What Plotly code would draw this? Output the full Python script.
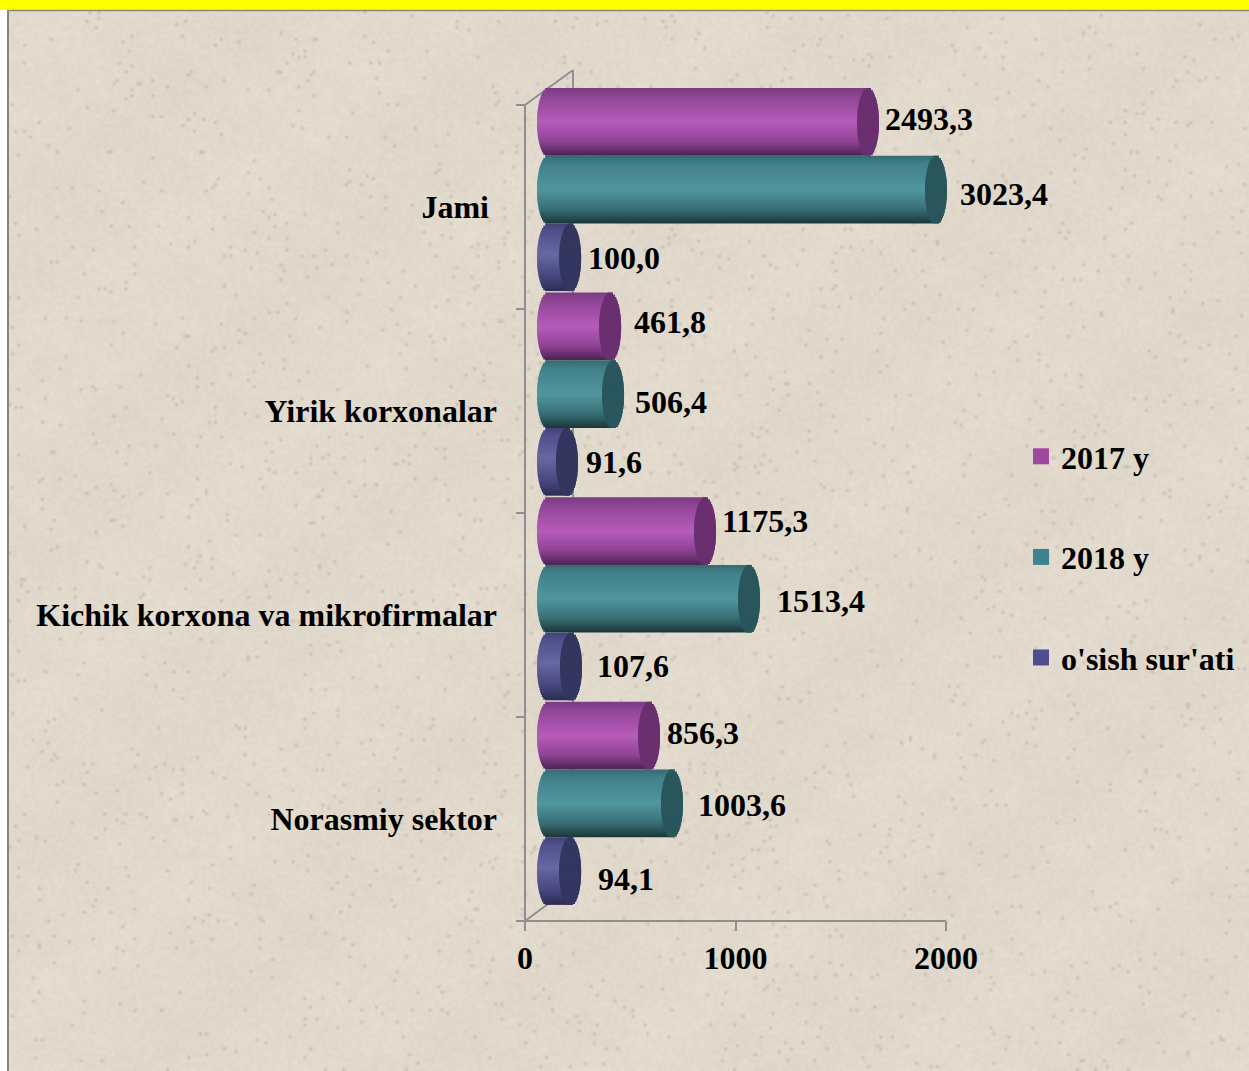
import base64, math, struct, zlib
import numpy as np
import plotly.graph_objects as go

# ---------- data (bar lengths as drawn on the axis; printed labels are separate) ----------
categories = ["Jami\u00a0", "Yirik korxonalar", "Kichik korxona va mikrofirmalar", "Norasmiy sektor"]
series_names = ["2017 y", "2018 y", "o'sish sur'ati"]
drawn_2017 = [1520, 295, 746, 480]
drawn_2018 = [1843, 309, 955, 589]
drawn_rate = [105, 90, 109, 105]
labels_2017 = ["2493,3", "461,8", "1175,3", "856,3"]
labels_2018 = ["3023,4", "506,4", "1513,4", "1003,6"]
labels_rate = ["100,0", "91,6", "107,6", "94,1"]
x_ticks = [0, 1000, 2000]

# ---------- layout constants ----------
W, H = 1249, 1071
X0, X2000 = 525, 946
ROOM_X = 50            # value axis domain is wider than its line so end tick labels do not push margins
Y_TOP, Y_BOT = 105, 921
Y_ROOM = 80            # the plot area reaches above the axis so the shifted top bar is not cut
PX = (X2000 - X0) / 2000
DEPTH = 23 / PX        # shift of bar bases on the value axis
CAP = 11 / PX          # half width of the cylinder end ellipse
ROW = (Y_BOT - Y_TOP) / 4
SHIFT = -17 / ROW
DRIFT = 0.6 / ROW      # bar groups sit slightly wider apart than the axis ticks
THICK = 67.7 / ROW
N = 30
FONT = dict(family="Liberation Serif", size=32, color="#000000", weight=700)

styles = [
    dict(stops=[(0, "#7a3a80"), (.12, "#8f4595"), (.5, "#b75bbb"), (.78, "#8f4495"), (1, "#4c2153")], cap="#6a2f6f", sw="#a0479f"),
    dict(stops=[(0, "#376a70"), (.12, "#41808a"), (.5, "#51969e"), (.78, "#387077"), (1, "#1c3639")], cap="#29565c", sw="#41838a"),
    dict(stops=[(0, "#43437a"), (.12, "#50508c"), (.45, "#6767a2"), (.78, "#47477f"), (1, "#2b2b55")], cap="#33365e", sw="#4f4e8c"),
]
# horizontal / vertical nudges of each printed label, relative to its bar end
gap_x = [[5, 12, 6], [12, 10, 7], [5, 16, 14], [6, 14, 16]]
nudge_y = [[-3, 4, 1], [-4, 8, 0], [-10, 2, 0], [-3, 2, 8]]


def hex2rgb(h):
    return [int(h[i:i + 2], 16) for i in (1, 3, 5)]


def grad(stops, t):
    for (a, ca), (b, cb) in zip(stops, stops[1:]):
        if t <= b:
            f = (t - a) / (b - a)
            ra, rb = hex2rgb(ca), hex2rgb(cb)
            return "rgb(%d,%d,%d)" % tuple(round(x + (y - x) * f) for x, y in zip(ra, rb))
    return stops[-1][1]


def texture_uri(w=416, h=357):
    """Low-contrast paper grain for the page background (decorative only)."""
    yy, xx = np.mgrid[0:h, 0:w].astype(float)
    hsh = np.abs(np.modf(np.sin(xx * 12.9898 + yy * 78.233) * 43758.5453)[0])
    wave = np.sin(xx / 7.3) * np.sin(yy / 5.1) + np.sin((xx + yy) / 17.0)
    g = (hsh - .5) * 7 + wave * 1.2
    spots = hsh > .985
    base = np.array([226, 218, 205], float)
    img = base[None, None, :] + g[..., None]
    img[spots] -= 28
    img = np.clip(img, 0, 255).astype(np.uint8)
    raw = b"".join(b"\x00" + img[r].tobytes() for r in range(h))

    def chunk(t, d):
        return struct.pack(">I", len(d)) + t + d + struct.pack(">I", zlib.crc32(t + d))
    png = (b"\x89PNG\r\n\x1a\n" + chunk(b"IHDR", struct.pack(">IIBBBBB", w, h, 8, 2, 0, 0, 0))
           + chunk(b"IDAT", zlib.compress(raw, 9)) + chunk(b"IEND", b""))
    return "data:image/png;base64," + base64.b64encode(png).decode()


def px(x):
    return x / W


def py(y):
    return 1 - y / H


fig = go.Figure()
drawn = [drawn_2017, drawn_2018, drawn_rate]
printed = [labels_2017, labels_2018, labels_rate]

for s, (vals, st) in enumerate(zip(drawn, styles)):
    top = -0.5 + SHIFT + s * THICK
    h = THICK / N
    for part in ("body", "cap"):
        for i in range(N):
            t = -1 + (2 * i + 1) / N
            hw = CAP * math.sqrt(max(0, 1 - t * t))
            if part == "body":
                base = [DEPTH - hw] * 4
                xs = [v + 2 * hw for v in vals]
                col = grad(st["stops"], (i + .5) / N)
            else:
                base = [DEPTH + v - hw for v in vals]
                xs = [2 * hw] * 4
                col = st["cap"]
            fig.add_trace(go.Bar(
                y=categories, x=xs, base=base, orientation="h",
                width=h * (1.6 if i < N - 1 else 1),
                offset=[top + i * h + c * DRIFT for c in range(4)],
                marker=dict(color=col, line=dict(width=0)), showlegend=False,
                hoverinfo="skip"))

# legend entries
for name, st in zip(series_names, styles):
    fig.add_trace(go.Scatter(
        x=[None], y=[None], mode="markers", name=name, legendgroup=name,
        marker=dict(symbol="square", size=17, color=st["sw"])))

# printed value labels
annotations = []
for s in range(3):
    for c in range(4):
        annotations.append(dict(
            x=DEPTH + drawn[s][c], xref="x", xanchor="left", xshift=11 + gap_x[c][s],
            y=c + SHIFT + c * DRIFT - 0.5 + (s + .5) * THICK, yref="y", yanchor="middle", yshift=-nudge_y[c][s],
            text=printed[s][c], showarrow=False, font=FONT, borderpad=0))

grey = "#8f8f8f"
line = dict(color=grey, width=2)
shapes = [
    dict(type="rect", xref="paper", yref="paper", x0=0, x1=1, y0=py(10), y1=1,
         fillcolor="#ffff00", line=dict(width=0), layer="below"),
    dict(type="line", xref="paper", yref="paper", x0=px(7), x1=1, y0=py(10.5), y1=py(10.5),
         line=dict(color="#8a8a80", width=1.5), layer="below"),
    dict(type="line", xref="paper", yref="paper", x0=px(8), x1=px(8), y0=0, y1=py(10),
         line=dict(color="#858585", width=2), layer="below"),
    dict(type="line", xref="paper", yref="paper", x0=px(X0), x1=px(X0), y0=py(Y_TOP), y1=py(Y_BOT), line=line, layer="below"),
    dict(type="line", xref="paper", yref="paper", x0=px(X0 - 9), x1=px(X2000), y0=py(Y_BOT), y1=py(Y_BOT), line=line, layer="below"),
    dict(type="line", xref="paper", yref="paper", x0=px(X0), x1=px(573), y0=py(Y_TOP), y1=py(70), line=line, layer="below"),
    dict(type="line", xref="paper", yref="paper", x0=px(573), x1=px(573), y0=py(70), y1=py(890), line=line, layer="below"),
    dict(type="line", xref="paper", yref="paper", x0=px(X0), x1=px(552), y0=py(Y_BOT), y1=py(901), line=line, layer="below"),
]

fig.update_layout(
    width=W, height=H, autosize=False,
    margin=dict(l=0, r=0, t=0, b=0, pad=0),
    paper_bgcolor="#ffffff", plot_bgcolor="rgba(0,0,0,0)",
    barmode="overlay", font=FONT,
    xaxis=dict(domain=[px(X0 - ROOM_X), px(X2000 + ROOM_X)], range=[-ROOM_X / PX, 2000 + ROOM_X / PX],
               tickvals=x_ticks, ticktext=[str(v) for v in x_ticks],
               showgrid=False, zeroline=False, showline=False,
               ticks="outside", ticklen=9, tickwidth=2, tickcolor=grey, tickfont=FONT),
    yaxis=dict(domain=[py(Y_BOT), py(Y_ROOM)], type="category", categoryorder="array", categoryarray=categories,
               range=[3.5, -0.5 - (Y_TOP - Y_ROOM) / ROW], tickson="boundaries", showgrid=False, zeroline=False,
               showline=False, ticks="outside", ticklen=9, tickwidth=2, anchor="free", position=px(X0),
               tickcolor=grey, tickfont=FONT, ticklabelstandoff=28),
    legend=dict(x=px(1240), y=py(429), xanchor="right", yanchor="top", tracegroupgap=56,
                itemsizing="trace", font=FONT, bgcolor="rgba(0,0,0,0)", traceorder="grouped"),
    annotations=annotations, shapes=shapes,
    images=[dict(source=texture_uri(), xref="paper", yref="paper", x=px(8), y=py(11), sizex=1 - px(8), sizey=py(11),
                 xanchor="left", yanchor="top", sizing="stretch", layer="below")],
)

fig.write_html(
    "out.html",
    config=dict(displayModeBar=False),
    post_script="document.body.style.margin='0';document.documentElement.style.overflow='hidden';",
)
